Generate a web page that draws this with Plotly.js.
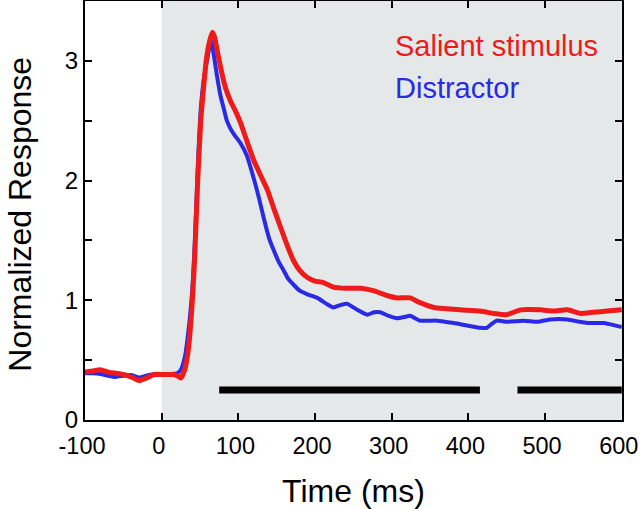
<!DOCTYPE html>
<html>
<head>
<meta charset="utf-8">
<script src="https://cdn.plot.ly/plotly-3.0.1.min.js"></script>
<style>html,body{margin:0;padding:0;background:#fff}#chart{width:640px;height:509px}</style>
</head>
<body>
<div id="chart"></div>
<script>
// Time axis (ms) and responses
const timeSalient = [-100,-90,-80,-70,-60,-50,-40,-30,-20,-10,0,10,15,20,25,30,35,40,43,47,51,55,58,62,66,69,72,77,83,90,97,103,110,120,130,138,146,155,163,172,180,190,200,210,224,240,260,276,294,307,324,337,355,372,389,415,433,450,468,494,511,529,546,563,581,600];
const salient = [0.40,0.41,0.42,0.40,0.39,0.38,0.36,0.33,0.35,0.38,0.38,0.38,0.38,0.37,0.35,0.42,0.60,1.00,1.35,2.00,2.50,2.80,3.00,3.15,3.24,3.20,3.10,2.94,2.78,2.66,2.57,2.48,2.35,2.17,2.03,1.92,1.77,1.61,1.47,1.33,1.25,1.19,1.16,1.15,1.11,1.10,1.10,1.08,1.04,1.02,1.02,0.98,0.94,0.93,0.92,0.91,0.89,0.88,0.92,0.92,0.91,0.92,0.89,0.90,0.91,0.92];

const timeDistractor = [-100,-90,-80,-70,-60,-50,-40,-30,-20,-10,0,10,20,25,30,35,40,43,47,51,55,59,62,65,68,72,77,81,85,90,95,103,111,120,127,133,140,146,152,159,165,172,180,190,203,215,224,233,242,255,268,277,285,296,307,316,324,337,359,381,398,415,424,430,437,450,472,490,507,529,545,555,577,598,600];
const distractor = [0.39,0.39,0.385,0.37,0.36,0.37,0.375,0.355,0.37,0.385,0.385,0.385,0.39,0.42,0.52,0.75,1.10,1.45,2.10,2.60,2.85,3.00,3.10,3.16,3.05,2.88,2.70,2.60,2.50,2.43,2.38,2.31,2.21,2.02,1.85,1.69,1.52,1.42,1.33,1.25,1.18,1.13,1.08,1.05,1.02,0.97,0.94,0.96,0.97,0.92,0.88,0.90,0.90,0.87,0.85,0.86,0.87,0.83,0.83,0.81,0.79,0.77,0.77,0.80,0.83,0.82,0.83,0.82,0.84,0.84,0.82,0.81,0.81,0.78,0.78];

// Significance bars (start, end in ms) and their level
const sigStart = [75, 464];
const sigEnd = [415, 600];
const sigLevel = 0.25;

// Stimulus period shading
const stimOn = 0, stimOff = 600;

const xTicks = [-100,0,100,200,300,400,500,600];
const yTicks = [0,0.5,1,1.5,2,2.5,3,3.5];
const yTickText = ['0','','1','','2','','3',''];

const RED = '#ef1b1b', BLUE = '#2a2ae6';
const FONT = 'Arial, "Liberation Sans", Helvetica, sans-serif';

const traces = [];
sigStart.forEach((s, i) => {
  traces.push({x:[s, sigEnd[i]], y:[sigLevel, sigLevel], mode:'lines', line:{color:'#000', width:7}, hoverinfo:'skip', cliponaxis:false});
});
traces.push({x: timeDistractor, y: distractor, mode:'lines', line:{color:BLUE, width:4, shape:'spline', smoothing:0.5}, name:'Distractor'});
traces.push({x: timeSalient, y: salient, mode:'lines', line:{color:RED, width:5, shape:'spline', smoothing:0.5}, name:'Salient stimulus'});

const layout = {
  width:640, height:509,
  margin:{l:85, r:18, t:1, b:89},
  paper_bgcolor:'#fff', plot_bgcolor:'#fff',
  showlegend:false,
  font:{family:FONT, color:'#000'},
  xaxis:{
    range:[-100,600.3], tickvals:xTicks, ticktext:xTicks.map(String),
    ticks:'inside', ticklen:7, tickwidth:2, tickcolor:'#000',
    showline:true, linewidth:2, linecolor:'#000', mirror:'ticks',
    showgrid:false, zeroline:false, automargin:false,
    ticklabeloverflow:'allow', ticklabelstandoff:4, ticklabelshift:-3,
    tickfont:{size:23.5, family:FONT},
    title:{text:'Time (ms)', font:{size:32, family:FONT}, standoff:22}
  },
  yaxis:{
    range:[0,3.5], tickvals:yTicks, ticktext:yTickText,
    ticks:'inside', ticklen:7, tickwidth:2, tickcolor:'#000',
    showline:true, linewidth:2, linecolor:'#000', mirror:'ticks',
    showgrid:false, zeroline:false, automargin:false,
    tickfont:{size:24, family:FONT}
  },
  shapes:[{type:'rect', xref:'x', yref:'paper', x0:stimOn, x1:stimOff, y0:0, y1:1, fillcolor:'#e4e8e8', line:{width:0}, layer:'below'}],
  annotations:[
    {text:'Normalized Response', x:-0.121, y:0.49, xref:'paper', yref:'paper', xanchor:'center', yanchor:'middle', textangle:-90, showarrow:false, font:{size:32, family:FONT, color:'#000'}},
    {text:'Salient stimulus', x:302, y:3.12, xref:'x', yref:'y', xanchor:'left', yanchor:'middle', showarrow:false, font:{size:29, color:RED, family:FONT}},
    {text:'Distractor', x:302, y:2.77, xref:'x', yref:'y', xanchor:'left', yanchor:'middle', showarrow:false, font:{size:29, color:BLUE, family:FONT}}
  ]
};

Plotly.newPlot('chart', traces, layout, {displayModeBar:false, staticPlot:true});
</script>
</body>
</html>
